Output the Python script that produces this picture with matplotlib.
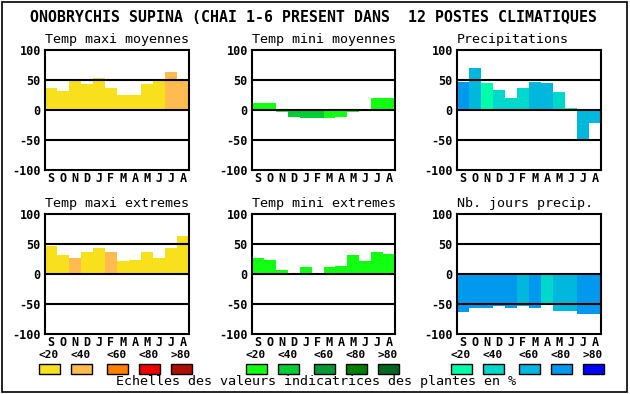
import matplotlib
matplotlib.use("Agg")
import matplotlib.pyplot as plt
from matplotlib.patches import Rectangle

plt.rcParams['axes.unicode_minus'] = False
plt.rcParams['font.family'] = ['DejaVu Sans Mono']

W, H = 630, 394

months = ["S", "O", "N", "D", "J", "F", "M", "A", "M", "J", "J", "A"]
yticks = [-100, -50, 0, 50, 100]
title = "ONOBRYCHIS SUPINA (CHAI 1-6 PRESENT DANS  12 POSTES CLIMATIQUES"
footer = "Echelles des valeurs indicatrices des plantes en %"
scale_labels = ["<20", "<40", "<60", "<80", ">80"]

warm = ["#f8e11c", "#ffbb4f", "#ff8000", "#ee0000", "#ad1000"]
green = ["#11ff11", "#00cc33", "#009a30", "#007f00", "#006622"]
blue = ["#00ffaa", "#00d8cb", "#00b8de", "#0099ee", "#0000ff"]

names = ["Temp maxi moyennes", "Temp mini moyennes", "Precipitations",
         "Temp maxi extremes", "Temp mini extremes", "Nb. jours precip."]

tmax_moy = [37, 32, 48, 44, 53, 37, 25, 25, 44, 51, 63, 52]
tmax_moy_cls = [0, 0, 0, 0, 0, 0, 0, 0, 0, 0, 1, 1]
tmin_moy = [12, 12, -4, -12, -13, -13, -13, -11, -3, 2, 20, 20]
tmin_moy_cls = [0, 0, 0, 1, 1, 1, 0, 0, 0, 0, 0, 0]
precip = [47, 70, 45, 33, 20, 37, 47, 45, 30, 3, -48, -22]
precip_cls = [3, 2, 0, 1, 1, 1, 2, 2, 1, 0, 2, 2]
tmax_ext = [46, 32, 27, 37, 44, 37, 21, 24, 36, 26, 44, 64]
tmax_ext_cls = [0, 0, 1, 0, 0, 1, 0, 0, 0, 0, 0, 0]
tmin_ext = [27, 24, 6, -2, 12, 0, 11, 14, 31, 21, 37, 34]
tmin_ext_cls = [0] * 12
jours = [-63, -56, -56, -54, -57, -54, -56, -50, -62, -62, -67, -66]
jours_cls = [3, 3, 3, 3, 3, 2, 3, 1, 2, 2, 3, 3]

panels = [
    (tmax_moy, tmax_moy_cls, warm),
    (tmin_moy, tmin_moy_cls, green),
    (precip, precip_cls, blue),
    (tmax_ext, tmax_ext_cls, warm),
    (tmin_ext, tmin_ext_cls, green),
    (jours, jours_cls, blue),
]

xspans = [(45, 189), (252, 395), (457, 601)]
yspans = [(50, 170), (214, 334)]

fig = plt.figure(figsize=(W / 100, H / 100), dpi=100)
fig.patch.set_facecolor("white")

def rect(x0, x1, y0, y1):
    return [x0 / W, 1 - y1 / H, (x1 - x0) / W, (y1 - y0) / H]

for i, (vals, cls, pal) in enumerate(panels):
    r, c = divmod(i, 3)
    x0, x1 = xspans[c]
    y0, y1 = yspans[r]
    ax = fig.add_axes(rect(x0, x1, y0, y1))
    ax.bar(range(12), vals, width=1.0, color=[pal[k] for k in cls],
           linewidth=0, zorder=1)
    for yl in (-50, 0, 50):
        ax.axhline(yl, color="black", lw=1.5, zorder=3)
    ax.set_xlim(-0.5, 11.5)
    ax.set_ylim(-100, 100)
    ax.set_yticks(yticks)
    ax.set_yticklabels([str(v) for v in yticks], fontsize=8.5, fontweight="bold")
    ax.set_xticks(range(12))
    ax.set_xticklabels(months, fontsize=8.5, fontweight="bold")
    ax.tick_params(length=0, pad=3)
    ax.tick_params(axis="x", pad=1.5)
    for s in ax.spines.values():
        s.set_linewidth(1.5)
    ax.set_title(names[i], loc="left", fontsize=9.6, pad=5)

fig.text(314 / W, 1 - 18 / H, title, ha="center", va="center",
         fontsize=10.7, fontweight="bold")

ov = fig.add_axes([0, 0, 1, 1], facecolor="none")
ov.set_xlim(0, W)
ov.set_ylim(H, 0)
ov.axis("off")
ov.add_patch(Rectangle((1.5, 1.5), 625.5, 390, fill=False, lw=1.2, ec="black"))

group_starts = [39, 246, 451]
offsets = [0, 32, 68, 100, 132]
for g, pal in zip(group_starts, [warm, green, blue]):
    for k, off in enumerate(offsets):
        x = g + off
        ov.add_patch(Rectangle((x, 364), 20.5, 10, fc=pal[k], ec="black", lw=1))
        ov.text(x + 10, 354.5, scale_labels[k], ha="center", va="center",
                fontsize=8, fontweight="bold")

ov.text(316, 382, footer, ha="center", va="center", fontsize=9.6)

fig.savefig("out.png", dpi=100, facecolor="white")
